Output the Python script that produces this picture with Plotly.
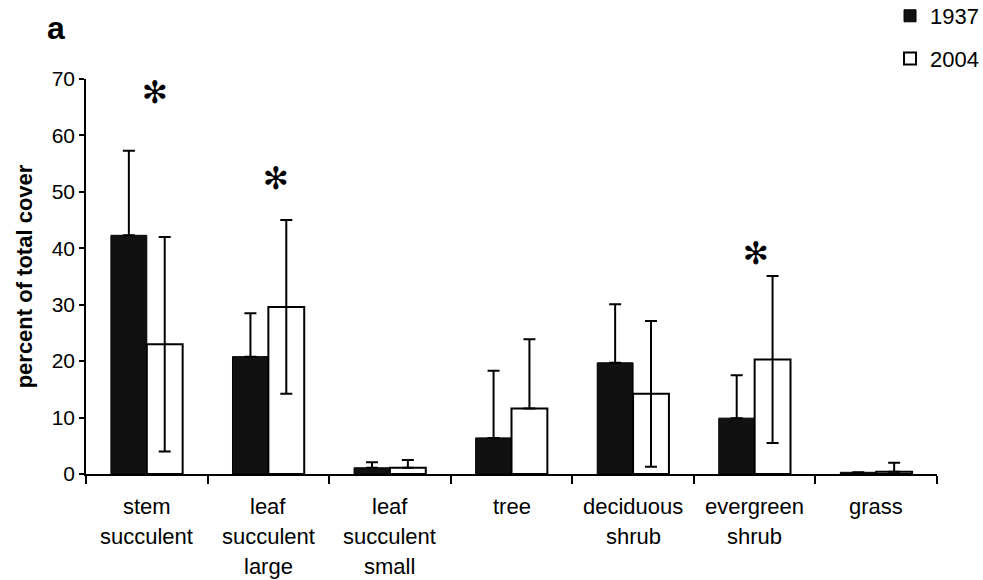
import plotly.graph_objects as go

categories = ["stem succulent", "leaf succulent large", "leaf succulent small",
              "tree", "deciduous shrub", "evergreen shrub", "grass"]
label_lines = [["stem", "succulent"], ["leaf", "succulent", "large"],
               ["leaf", "succulent", "small"], ["tree"], ["deciduous", "shrub"],
               ["evergreen", "shrub"], ["grass"]]

v1937 = [42.3, 20.8, 1.1, 6.4, 19.7, 9.9, 0.3]
e1937_plus = [15.0, 7.7, 1.0, 11.9, 10.4, 7.6, 0.0]
e1937_minus = [0, 0, 0, 0, 0, 0, 0]

v2004 = [23.0, 29.6, 1.1, 11.6, 14.2, 20.3, 0.4]
e2004_plus = [19.0, 15.4, 1.4, 12.3, 12.9, 14.8, 1.6]
e2004_minus = [19.0, 15.4, 0.0, 0.0, 12.9, 14.8, 0.0]

sig_categories = ["stem succulent", "leaf succulent large", "evergreen shrub"]
sig_y = [67.7, 52.5, 39.2]
sig_xshift = [8, 8, 1]

yticks = [0, 10, 20, 30, 40, 50, 60, 70]

FONT = "Liberation Sans, Arial, sans-serif"

fig = go.Figure()
fig.add_trace(go.Bar(
    x=categories, y=v1937, name="1937", legendgroup="g1",
    marker=dict(color="#111111", line=dict(color="black", width=1)),
    error_y=dict(type="data", symmetric=False, array=e1937_plus,
                 arrayminus=e1937_minus, color="black", thickness=2, width=6),
))
fig.add_trace(go.Bar(
    x=categories, y=v2004, name="2004", legendgroup="g2",
    marker=dict(color="white", line=dict(color="black", width=2)),
    error_y=dict(type="data", symmetric=False, array=e2004_plus,
                 arrayminus=e2004_minus, color="black", thickness=2, width=6),
))

annotations = []
for cat, lines in zip(categories, label_lines):
    for i, line in enumerate(lines):
        annotations.append(dict(
            x=cat, xref="x", y=0, yref="paper", text=line, showarrow=False,
            yanchor="middle", xanchor="center", yshift=-32 - 30 * i,
            font=dict(family=FONT, size=22, color="black")))

for cat, yv, xs in zip(sig_categories, sig_y, sig_xshift):
    annotations.append(dict(
        x=cat, xref="x", y=yv, yref="y", text="✻", showarrow=False,
        xanchor="center", yanchor="middle", xshift=xs,
        font=dict(family="DejaVu Sans", size=31, color="black")))

annotations.append(dict(
    x=-0.0353, xref="paper", y=1.129, yref="paper", text="<b>a</b>",
    showarrow=False, xanchor="center", yanchor="middle",
    font=dict(family=FONT, size=32, color="black")))

fig.update_layout(
    width=983, height=580,
    margin=dict(l=86, r=46, t=79, b=106, autoexpand=False),
    paper_bgcolor="white", plot_bgcolor="white",
    barmode="group", bargap=0.41, bargroupgap=0,
    font=dict(family=FONT, size=21, color="black"),
    showlegend=True,
    legend=dict(x=0.9448, y=1.2127, xanchor="left", yanchor="top",
                tracegroupgap=11, font=dict(family=FONT, size=22),
                bgcolor="rgba(0,0,0,0)"),
    annotations=annotations,
    xaxis=dict(showline=True, linecolor="black", automargin=False,
               linewidth=1.5, ticks="outside", tickson="boundaries",
               ticklen=8, tickcolor="black", tickwidth=1.5,
               showticklabels=False, showgrid=False, zeroline=False),
    yaxis=dict(range=[0, 70], tickvals=yticks, automargin=False,
               showline=True, linecolor="black", linewidth=1.5,
               ticks="outside", ticklen=5, tickcolor="black", tickwidth=1.5,
               showgrid=False, zeroline=False,
               tickfont=dict(family=FONT, size=21),
               title=dict(text="<b>percent of total cover</b>",
                          font=dict(family=FONT, size=22), standoff=13)),
)

fig.write_html("out.html")
